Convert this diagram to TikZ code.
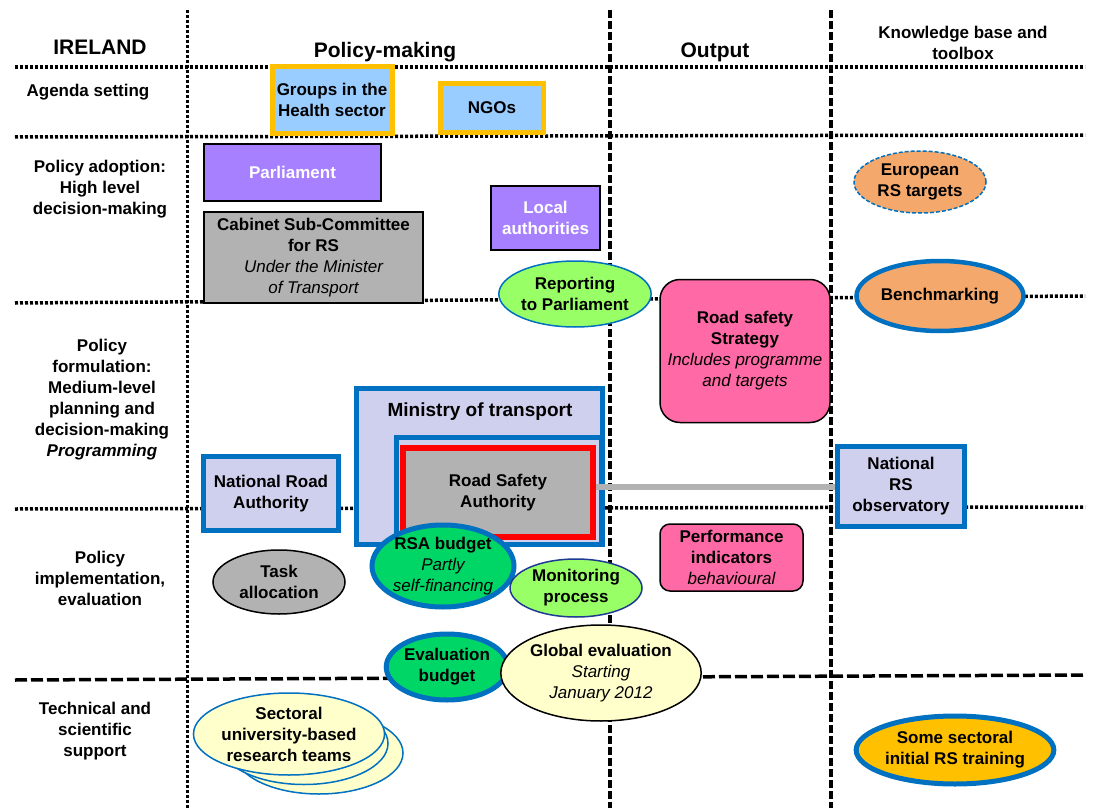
\documentclass[tikz,border=0pt]{standalone}
\usepackage{fontspec}
\setmainfont{Liberation Sans}
\usetikzlibrary{shapes.geometric}

\definecolor{skyblue}{RGB}{153,204,255}
\definecolor{gold}{RGB}{255,192,0}
\definecolor{violet}{RGB}{166,128,255}
\definecolor{ltgray}{RGB}{178,178,178}
\definecolor{lavender}{RGB}{207,207,238}
\definecolor{ieblue}{RGB}{0,112,192}
\definecolor{navy}{RGB}{31,58,147}
\definecolor{rspink}{RGB}{255,105,165}
\definecolor{ltgreen}{RGB}{153,255,102}
\definecolor{budget}{RGB}{0,214,102}
\definecolor{apricot}{RGB}{245,168,107}
\definecolor{cream}{RGB}{255,255,204}

\newcommand{\subnote}[1]{{\mdseries\itshape #1}}

\tikzset{
  every node/.style = {font=\fontsize{17}{21}\selectfont\bfseries, align=center, inner sep=0pt},
  header/.style = {font=\fontsize{21}{25}\selectfont\bfseries},
  grid dots/.style = {line width=3.5pt, dash pattern=on 3pt off 2pt},
  grid fine/.style = {line width=3pt, dash pattern=on 3pt off 2pt},
  grid dashes/.style = {line width=3.5pt, dash pattern=on 8pt off 3pt},
  grid long/.style = {line width=3.5pt, dash pattern=on 12pt off 4pt},
  agenda/.style = {rectangle, draw=gold, fill=skyblue, line width=5pt},
  adoption/.style = {rectangle, draw=black, fill=violet, line width=1.5pt, text=white},
  cabinet/.style = {rectangle, draw=black, fill=ltgray, line width=1.5pt},
  output/.style = {rectangle, draw=black, fill=rspink, line width=1.5pt},
  agency/.style = {rectangle, draw=ieblue, fill=lavender, line width=5pt},
  light oval/.style = {ellipse, draw=ieblue, fill=ltgreen, line width=1.5pt},
  budget oval/.style = {ellipse, draw=ieblue, fill=budget, line width=5pt},
  toolbox oval/.style = {ellipse, draw=ieblue, fill=apricot, line width=4.5pt},
  team oval/.style = {ellipse, draw=ieblue, fill=cream, line width=1.5pt,
    minimum width=168pt, minimum height=82pt},
}

\begin{document}
\begin{tikzpicture}[x=1pt, y=-1pt]

  \useasboundingbox (0,0) rectangle (1093,808);

  % draw grid of the table
  \draw[grid dots] (15,67) -- (1085,67);
  \draw[grid dots] (15,137) -- (1085,135);
  \draw[grid dots] (15,303) -- (1085,296);
  \draw[grid dots] (15,509) -- (1085,507);
  \draw[grid long] (15,680) -- (1085,675);
  \draw[grid fine] (187,10) -- (187,808);
  \draw[grid dashes] (610,10) -- (610,808);
  \draw[grid dashes] (831,10) -- (831,808);

  % column headers
  \node[header] (ireland) at (100,47) {IRELAND};
  \node[header] (policymaking) at (385,52) {Policy-making};
  \node[header] (output) at (715,52) {Output};
  \node (knowledge) at (963,43) {Knowledge base and\\toolbox};

  % row labels
  \node (agenda) at (88,92) {Agenda setting};
  \node (adoption) at (100,189) {Policy adoption:\\High level\\decision-making};
  \node (formulation) at (102,400) {Policy\\formulation:\\Medium-level\\planning and\\decision-making\\\textit{Programming}};
  \node (implementation) at (100,578) {Policy\\implementation,\\evaluation};
  \node (technical) at (95,731) {Technical and\\scientific\\support};

  % agenda setting
  \node[agenda, minimum width=120pt, minimum height=66pt] (health) at (332,100) {Groups in the\\Health sector};
  \node[agenda, minimum width=103pt, minimum height=49pt] (ngos) at (492,108) {NGOs};

  % policy adoption
  \node[adoption, minimum width=177pt, minimum height=57pt] (parliament) at (292.5,172.5) {Parliament};
  \node[cabinet, minimum width=219pt, minimum height=91pt] (cabinet) at (313.5,257.5)
    {Cabinet Sub-Committee\\for RS\\\subnote{Under the Minister}\\\subnote{of Transport}};
  \node[adoption, minimum width=109pt, minimum height=64pt] (local) at (545.5,218) {Local\\authorities};
  \node[light oval, minimum width=136pt, minimum height=66pt] (reporting) at (575,294) {Reporting\\to Parliament};

  % output
  \node[output, rounded corners=20pt, minimum width=170pt, minimum height=143pt] (strategy) at (745,351)
    {Road safety\\Strategy\\\subnote{Includes programme}\\\subnote{and targets}};
  \node[output, rounded corners=10pt, minimum width=143pt, minimum height=67pt] (indicators) at (731.5,557.5)
    {Performance\\indicators\\\subnote{behavioural}};

  % knowledge base and toolbox
  \node[toolbox oval, draw=ieblue, line width=1.5pt, dash pattern=on 4pt off 2pt,
    minimum width=132pt, minimum height=62pt] (european) at (920,182) {European\\RS targets};
  \node[toolbox oval, minimum width=142pt, minimum height=70pt] (benchmarking) at (940,296) {Benchmarking};
  \node[agency, minimum width=127pt, minimum height=80pt] (observatory) at (901,486.5) {National\\RS\\observatory};
  \node[budget oval, fill=gold, minimum width=186pt, minimum height=68pt] (training) at (955,750)
    {Some sectoral\\initial RS training};

  % ministry of transport and road safety authority
  \node[agency, minimum width=246pt, minimum height=156pt] (ministry) at (479,466.5) {};
  \node[font=\fontsize{19}{23}\selectfont\bfseries] (ministrytitle) at (480,412) {Ministry of transport};
  \node[agency, minimum width=205pt, minimum height=107pt] (rsaframe) at (499,491) {};
  \node[cabinet, draw=red, line width=6pt, minimum width=190pt, minimum height=89pt] (rsa) at (498,492.5)
    {Road Safety\\Authority};
  \node[agency, minimum width=135pt, minimum height=74pt] (nra) at (271,493.5) {National Road\\Authority};

  % link to the observatory
  \draw[ltgray, line width=6pt] (observatory.west) -- (observatory.west -| rsa.east);

  % implementation and evaluation
  \node[cabinet, ellipse, minimum width=132pt, minimum height=64pt] (task) at (279,582) {Task\\allocation};
  \node[budget oval, minimum width=142pt, minimum height=82pt] (rsabudget) at (443,566)
    {RSA budget\\\subnote{Partly}\\\subnote{self-financing}};
  \node[light oval, draw=navy, minimum width=132pt, minimum height=58pt] (monitoring) at (576,588) {Monitoring\\process};
  \node[budget oval, minimum width=116pt, minimum height=66pt] (evalbudget) at (447,667) {Evaluation\\budget};
  \node[light oval, draw=black, fill=cream, minimum width=186pt, minimum height=96pt] (global) at (601,673)
    {Global evaluation\\\subnote{Starting}\\\subnote{January 2012}};

  % technical and scientific support
  \foreach \i in {2,1} {
    \node[team oval] (team\i) at ({289+15*\i},{734+9.5*\i}) {};
  }
  \node[team oval] (team0) at (289,734) {Sectoral\\university-based\\research teams};

\end{tikzpicture}
\end{document}
